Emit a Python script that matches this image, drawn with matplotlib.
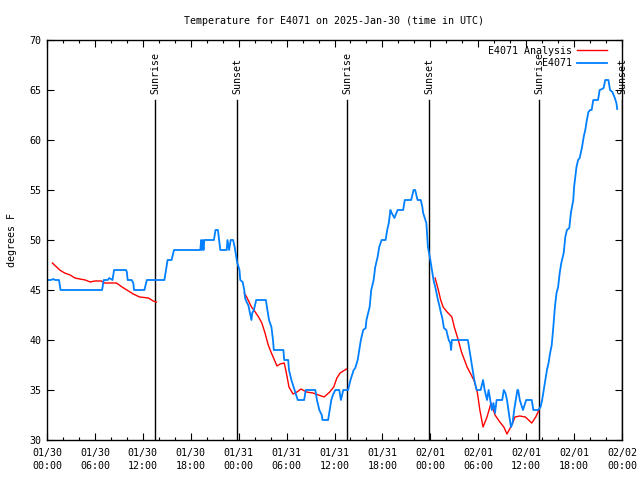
import matplotlib
matplotlib.use('Agg')
import matplotlib.pyplot as plt
from matplotlib.ticker import MultipleLocator

# hours since 2025-01-30 00:00 UTC
obs_hours = [0.0, 0.5, 0.8, 1.0, 1.5, 1.7, 6.9, 7.1, 7.6, 7.8, 8.2, 8.4, 9.9, 10.0, 10.1, 10.6,
             10.8, 10.9, 12.2, 12.5, 14.7, 14.9, 15.1, 15.6, 15.9, 19.2, 19.3, 19.4, 19.5, 19.6,
             19.7, 20.9, 21.1, 21.4, 21.7, 22.5, 22.6, 22.8, 23.0, 23.3, 23.5, 23.8, 24.1, 24.2,
             24.5, 24.7, 24.8, 25.0, 25.2, 25.6, 25.7, 25.9, 26.2, 27.4, 27.6, 27.8, 28.1, 28.3,
             28.4, 29.6, 29.7, 30.2, 30.3, 30.6, 30.8, 31.0, 31.4, 32.2, 32.4, 33.6, 33.8, 34.1,
             34.4, 34.5, 35.2, 35.4, 35.6, 35.8, 36.1, 36.6, 36.8, 37.1, 37.7, 38.0, 38.4, 38.6,
             38.9, 39.1, 39.3, 39.6, 39.9, 40.0, 40.4, 40.6, 40.9, 41.1, 41.4, 41.6, 41.9, 42.4,
             42.6, 42.8, 43.0, 43.1, 43.3, 43.5, 43.9, 44.6, 44.8, 45.6, 45.9, 46.1, 46.4, 46.8,
             47.0, 47.1, 47.5, 47.6, 47.7, 48.0, 48.2, 48.4, 48.7, 48.9, 49.2, 49.3, 49.5, 49.7,
             50.0, 50.3, 50.5, 50.6, 50.7, 52.7, 52.9, 53.1, 53.3, 53.5, 53.8, 54.3, 54.6, 54.8,
             55.1, 55.3, 55.5, 55.7, 55.9, 56.1, 56.3, 56.7, 57.0, 57.2, 57.4, 57.6, 57.9, 58.1,
             58.3, 58.5, 58.7, 58.9, 59.0, 59.2, 59.6, 59.8, 60.0, 60.7, 60.9, 61.5, 61.8, 62.0,
             62.2, 62.4, 62.6, 62.8, 63.0, 63.2, 63.4, 63.6, 63.8, 64.0, 64.2, 64.4, 64.7, 64.9,
             65.1, 65.4, 65.6, 65.9, 66.0, 66.3, 66.5, 66.7, 67.0, 67.2, 67.4, 67.6, 67.8, 68.0,
             68.2, 68.4, 68.8, 69.0, 69.2, 69.5, 69.7, 69.9, 70.3, 70.5, 70.8, 71.1, 71.3, 71.4]
obs_temps = [46.0, 46.0, 46.1, 46.0, 46.0, 45.0, 45.0, 46.0, 46.0, 46.2, 46.0, 47.0, 47.0, 46.8, 46.0, 46.0,
             45.7, 45.0, 45.0, 46.0, 46.0, 47.0, 48.0, 48.0, 49.0, 49.0, 50.0, 49.0, 50.0, 49.0,
             50.0, 50.0, 51.0, 51.0, 49.0, 49.0, 50.0, 49.0, 50.0, 50.0, 49.3, 47.8, 47.0, 46.0,
             45.8, 45.0, 44.2, 43.8, 43.5, 42.0, 42.7, 43.0, 44.0, 44.0, 43.0, 42.0, 41.3, 40.0,
             39.0, 39.0, 38.0, 38.0, 37.0, 36.0, 35.5, 35.0, 34.0, 34.0, 35.0, 35.0, 34.0, 33.0,
             32.5, 32.0, 32.0, 33.0, 34.0, 34.5, 35.0, 35.0, 34.0, 35.0, 35.0, 36.0, 37.0, 37.2,
             38.0, 39.0, 40.0, 41.0, 41.2, 42.0, 43.3, 45.0, 46.0, 47.3, 48.3, 49.3, 50.0, 50.0,
             51.0, 51.7, 53.0, 52.8, 52.5, 52.2, 53.0, 53.0, 54.0, 54.0, 55.0, 55.0, 54.0, 54.0,
             53.3, 52.7, 51.7, 50.5, 49.3, 48.0, 47.0, 46.0, 45.0, 44.2, 43.2, 42.8, 42.2, 41.2,
             41.0, 40.0, 39.7, 39.0, 40.0, 40.0, 39.0, 38.0, 37.0, 36.0, 35.0, 35.0, 36.0, 35.0,
             34.0, 35.0, 34.0, 33.0, 33.7, 32.7, 34.0, 34.0, 34.0, 35.0, 34.7, 34.0, 32.3, 31.3,
             31.7, 33.0, 34.0, 35.0, 35.0, 34.0, 33.0, 33.5, 34.0, 34.0, 33.0, 33.0, 33.3, 34.0,
             35.0, 36.0, 37.0, 37.7, 38.7, 39.5, 41.3, 43.3, 44.7, 45.3, 46.7, 47.7, 48.7, 50.3,
             51.0, 51.2, 52.7, 54.0, 55.3, 57.3, 58.0, 58.2, 59.3, 60.3, 61.0, 62.0, 62.8, 63.0,
             63.0, 64.0, 64.0, 64.0, 65.0, 65.1, 65.2, 66.0, 66.0, 65.0, 64.8, 64.2, 63.7, 63.1]

# analysis, three night-time pieces
ana1_hours = [0.67, 1.2, 1.6, 2.2, 2.9, 3.5, 4.1, 4.8, 5.4, 6.0, 6.8, 7.2, 8.7, 9.4, 10.0, 10.8, 11.6, 12.7, 13.3, 13.7]
ana1_temps = [47.7, 47.3, 47.0, 46.7, 46.5, 46.2, 46.1, 46.0, 45.8, 45.9, 45.9, 45.7, 45.7, 45.3, 45.0, 44.6, 44.3, 44.2, 43.9, 43.8]
ana2_hours = [24.7, 25.0, 25.3, 25.6, 25.9, 26.5, 26.9, 27.3, 27.7, 28.1, 28.8, 29.2, 29.7, 29.9, 30.3, 30.8,
              31.3, 31.8, 32.5, 33.3, 34.0, 34.7, 35.4, 35.9, 36.3, 36.7, 37.1, 37.5]
ana2_temps = [44.7, 44.3, 43.8, 43.3, 43.0, 42.3, 41.7, 40.7, 39.5, 38.7, 37.4, 37.6, 37.7, 37.0, 35.3, 34.6,
              34.8, 35.1, 34.8, 34.7, 34.5, 34.3, 34.8, 35.3, 36.2, 36.7, 36.9, 37.1]
ana3_hours = [48.6, 49.0, 49.3, 49.6, 50.1, 50.7, 51.0, 51.5, 51.9, 52.6, 53.0, 53.5, 53.9, 54.2, 54.6, 55.1,
              55.6, 56.1, 56.7, 57.2, 57.6, 58.2, 58.6, 59.2, 59.9, 60.7, 61.2, 61.6]
ana3_temps = [46.2, 45.0, 44.0, 43.3, 42.8, 42.3, 41.3, 40.0, 38.8, 37.3, 36.7, 35.9, 34.7, 33.0, 31.3, 32.3,
              33.7, 32.5, 31.8, 31.3, 30.6, 31.5, 32.3, 32.4, 32.3, 31.7, 32.3, 33.0]

sun_hours = [13.52, 23.79, 37.57, 47.83, 61.6, 72.0]
sun_labels = ['Sunrise', 'Sunset', 'Sunrise', 'Sunset', 'Sunrise', 'Sunset']

xtick_hours = list(range(0, 73, 6))
xtick_labels = ['01/30\n00:00', '01/30\n06:00', '01/30\n12:00', '01/30\n18:00',
                '01/31\n00:00', '01/31\n06:00', '01/31\n12:00', '01/31\n18:00',
                '02/01\n00:00', '02/01\n06:00', '02/01\n12:00', '02/01\n18:00',
                '02/02\n00:00']

FONT = 'DejaVu Sans Mono'
FS = 7.2
plt.rcParams['font.family'] = FONT
plt.rcParams['font.size'] = FS

fig = plt.figure(figsize=(6.4, 4.8), dpi=100)
ax = fig.add_axes([47/640, 40/480, 575/640, 400/480])

for h, lab in zip(sun_hours, sun_labels):
    ax.plot([h, h], [30, 64], color='black', lw=1.0)
    ax.text(h, 64.6, lab, rotation=90, ha='center', va='bottom', fontsize=FS)

red = '#ff0000'
ax.plot(ana1_hours, ana1_temps, color=red, lw=1.0, label='E4071 Analysis')
ax.plot(ana2_hours, ana2_temps, color=red, lw=1.0)
ax.plot(ana3_hours, ana3_temps, color=red, lw=1.0)
ax.plot(obs_hours, obs_temps, color='#0080ff', lw=1.3, label='E4071')

ax.set_xlim(0, 72)
ax.set_ylim(30, 70)
ax.set_xticks(xtick_hours)
ax.set_xticklabels(xtick_labels, linespacing=1.3)
ax.xaxis.set_minor_locator(MultipleLocator(2))
ax.set_yticks(range(30, 71, 5))
ax.tick_params(which='both', direction='in', top=True, right=True, labelsize=FS)
ax.tick_params(which='major', length=5, width=0.8)
ax.tick_params(which='minor', length=2.5, width=0.8)
ax.tick_params(axis='x', pad=6)
ax.tick_params(axis='y', pad=4)
for s in ax.spines.values():
    s.set_linewidth(1.0)

ax.set_ylabel('degrees F', fontsize=FS, labelpad=9)
ax.set_title('Temperature for E4071 on 2025-Jan-30 (time in UTC)', fontsize=FS, pad=11.5)

ax.legend(loc='upper right', frameon=False, markerfirst=False, fontsize=FS,
          handlelength=3.0, handletextpad=0.5, labelspacing=0.25,
          borderaxespad=0.2, bbox_to_anchor=(0.985, 1.0))

fig.savefig('out.png', dpi=100)
